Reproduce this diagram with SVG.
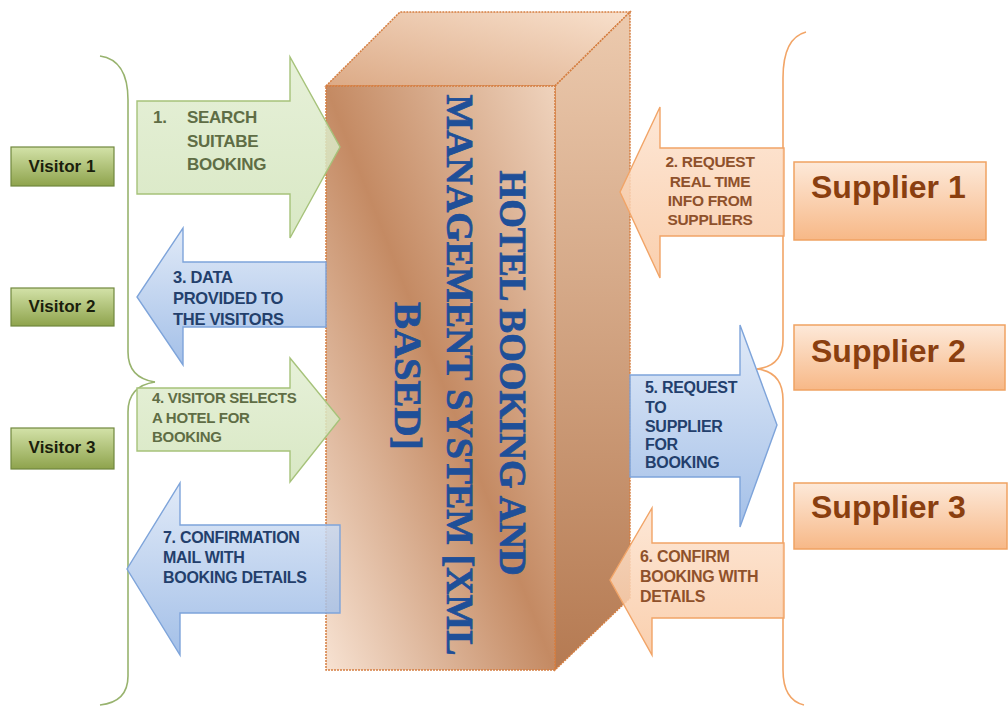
<svg xmlns="http://www.w3.org/2000/svg" width="1008" height="706" viewBox="0 0 1008 706">
<defs>
<linearGradient id="gVis" x1="0" y1="0" x2="0" y2="1"><stop offset="0" stop-color="#d3e2a8"/><stop offset="1" stop-color="#8ea34c"/></linearGradient>
<linearGradient id="gSup" x1="0" y1="0" x2="0" y2="1"><stop offset="0" stop-color="#fde9d9"/><stop offset="1" stop-color="#f7b887"/></linearGradient>
<linearGradient id="gFront" x1="1" y1="0" x2="0" y2="1"><stop offset="0" stop-color="#efd3bd"/><stop offset="0.5" stop-color="#c48a63"/><stop offset="1" stop-color="#f7e2d2"/></linearGradient>
<linearGradient id="gTop" x1="0" y1="1" x2="1" y2="0"><stop offset="0" stop-color="#dcaa86"/><stop offset="1" stop-color="#f8e0cc"/></linearGradient>
<linearGradient id="gSide" x1="0" y1="0" x2="0" y2="1"><stop offset="0" stop-color="#eccaae"/><stop offset="1" stop-color="#b57a52"/></linearGradient>
<linearGradient id="gGreen" x1="0" y1="0" x2="0" y2="1"><stop offset="0" stop-color="#e2eed2"/><stop offset="1" stop-color="#d2e4ba"/></linearGradient>
<linearGradient id="gBlue" x1="0" y1="0" x2="0" y2="1"><stop offset="0" stop-color="#dbe6f6"/><stop offset="1" stop-color="#94b5e4"/></linearGradient>
<linearGradient id="gOrange" x1="0" y1="0" x2="0" y2="1"><stop offset="0" stop-color="#fde3cf"/><stop offset="1" stop-color="#f9c7a0"/></linearGradient>
</defs>
<style>
.brace{fill:none;stroke-width:1.6}
.vis rect{fill:url(#gVis);stroke:#71883e;stroke-width:1.2}
.vis text{font-family:"Liberation Sans",Arial,sans-serif;font-weight:bold;font-size:17px;fill:#1a1e0c;text-anchor:middle}
.sup rect{fill:url(#gSup);stroke:#f0a262;stroke-width:1.5}
.sup text{font-family:"Liberation Sans",Arial,sans-serif;font-weight:bold;font-size:32px;fill:#8a3f10}
.arr path{stroke-width:1.4;fill-opacity:0.85}
.green path{fill:url(#gGreen);stroke:#a6c27a}
.blue path{fill:url(#gBlue);stroke:#7ea4da}
.orange path{fill:url(#gOrange);stroke:#f1a467}
.arr text{font-family:"Liberation Sans",Arial,sans-serif;font-weight:bold;font-size:16px;letter-spacing:-0.3px}
.green text{fill:#5f6d45}
.blue text{fill:#233f6c}
.orange text{fill:#8f512b}
.edge{stroke:#d57e40;stroke-width:1.5;stroke-dasharray:2 1}
.title{font-family:"Liberation Serif","Times New Roman",serif;font-weight:bold;font-size:38px;fill:#1f4f98;stroke:#1f4f98;stroke-width:0.8;text-anchor:middle}
</style>

<g id="braces">
<path class="brace" stroke="#98b36e" d="M100,56 Q128,60 128,100 L128,352 Q128,378 155,382"/>
<path class="brace" stroke="#98b36e" d="M155,382 Q128,386 128,412 L128,676 Q128,702 100,705"/>
<path class="brace" stroke="#f2a567" d="M806,32 Q783,38 783,78 L783,340 Q783,366 757,369"/>
<path class="brace" stroke="#f2a567" d="M757,369 Q783,372 783,400 L783,670 Q783,700 804,705"/>
</g>

<g id="system">
<polygon points="326,86 400,12 630,12 555,86" fill="url(#gTop)" class="edge"/>
<polygon points="555,86 630,12 630,598 555,670" fill="url(#gSide)" class="edge"/>
<rect x="326" y="86" width="229" height="584" fill="url(#gFront)" class="edge"/>
<text class="title" transform="translate(500,373) rotate(90)" textLength="405" lengthAdjust="spacingAndGlyphs">HOTEL BOOKING AND</text>
<text class="title" transform="translate(447,375) rotate(90)" textLength="561" lengthAdjust="spacingAndGlyphs">MANAGEMENT SYSTEM [XML</text>
<text class="title" transform="translate(395,376) rotate(90)" textLength="148" lengthAdjust="spacingAndGlyphs">BASED]</text>
</g>

<g id="connectors">
<g id="a1" class="arr green">
<path d="M137,101 H290 V57 L340,147 L290,238 V194 H137 Z"/>
<text x="153" y="123" style="font-size:17px">1.</text>
<text x="187" y="123" style="font-size:17px">SEARCH</text>
<text x="187" y="147" style="font-size:17px">SUITABE</text>
<text x="187" y="170" style="font-size:17px">BOOKING</text>
</g>
<g id="a3" class="arr blue">
<path d="M326,262 H183 V228 L137,297 L183,365 V327 H326 Z"/>
<text x="173" y="283" style="font-size:16.5px">3. DATA</text>
<text x="173" y="304" style="font-size:16.5px">PROVIDED TO</text>
<text x="173" y="325" style="font-size:16.5px">THE VISITORS</text>
</g>
<g id="a4" class="arr green">
<path d="M137,388 H290 V358 L340,419 L290,482 V451 H137 Z"/>
<text x="152" y="403" style="font-size:15px">4. VISITOR SELECTS</text>
<text x="152" y="423" style="font-size:15px">A HOTEL FOR</text>
<text x="152" y="442" style="font-size:15px">BOOKING</text>
</g>
<g id="a7" class="arr blue">
<path d="M340,525 H180 V483 L127,569 L180,655 V613 H340 Z"/>
<text x="163" y="543">7. CONFIRMATION</text>
<text x="163" y="563">MAIL WITH</text>
<text x="163" y="583">BOOKING DETAILS</text>
</g>
<g id="a2" class="arr orange">
<path d="M784,148 H660 V107 L620,192 L660,278 V236 H784 Z"/>
<text x="710" y="167" text-anchor="middle" style="font-size:15.5px">2. REQUEST</text>
<text x="710" y="187" text-anchor="middle" style="font-size:15.5px">REAL TIME</text>
<text x="710" y="206" text-anchor="middle" style="font-size:15.5px">INFO FROM</text>
<text x="710" y="225" text-anchor="middle" style="font-size:15.5px">SUPPLIERS</text>
</g>
<g id="a5" class="arr blue">
<path d="M630,375 H740 V325 L777,425 L740,527 V477 H630 Z"/>
<text x="645" y="393">5. REQUEST</text>
<text x="645" y="413">TO</text>
<text x="645" y="432">SUPPLIER</text>
<text x="645" y="450">FOR</text>
<text x="645" y="468">BOOKING</text>
</g>
<g id="a6" class="arr orange">
<path d="M784,543 H652 V508 L610,580 L652,655 V618 H784 Z"/>
<text x="640" y="562">6. CONFIRM</text>
<text x="640" y="582">BOOKING WITH</text>
<text x="640" y="602">DETAILS</text>
</g>
</g>

<g id="visitor1" class="vis"><rect x="11" y="147" width="103" height="39"/><text x="62" y="172">Visitor 1</text></g>
<g id="visitor2" class="vis"><rect x="11" y="288" width="103" height="38"/><text x="62" y="312">Visitor 2</text></g>
<g id="visitor3" class="vis"><rect x="11" y="428" width="103" height="41"/><text x="62" y="453">Visitor 3</text></g>

<g id="supplier1" class="sup"><rect x="794" y="162" width="192" height="78"/><text x="811" y="198">Supplier 1</text></g>
<g id="supplier2" class="sup"><rect x="794" y="325" width="211" height="65"/><text x="811" y="362">Supplier 2</text></g>
<g id="supplier3" class="sup"><rect x="794" y="483" width="213" height="66"/><text x="811" y="518">Supplier 3</text></g>
</svg>
